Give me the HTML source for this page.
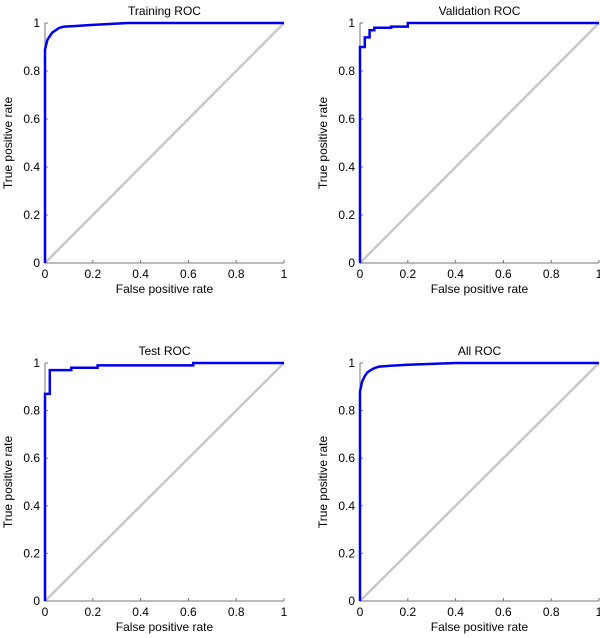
<!DOCTYPE html>
<html><head><meta charset="utf-8"><style>
html,body{margin:0;padding:0;background:#fff;}
svg{display:block;font-family:"Liberation Sans",sans-serif;}
</style></head><body>
<svg id="fig" width="600" height="638"></svg>
<script>
const ticks = [0, 0.2, 0.4, 0.6, 0.8, 1];
const tickLabels = ["0", "0.2", "0.4", "0.6", "0.8", "1"];
const titles = ["Training ROC", "Validation ROC", "Test ROC", "All ROC"];
const trainFpr = [0, 0, 0, 0.005, 0.01, 0.02, 0.03, 0.045, 0.06, 0.08, 0.12, 0.2, 0.35, 1];
const trainTpr = [0, 0.77, 0.89, 0.91, 0.93, 0.945, 0.96, 0.97, 0.98, 0.985, 0.987, 0.992, 1, 1];
const valFpr = [0, 0, 0.02, 0.02, 0.04, 0.04, 0.06, 0.06, 0.13, 0.13, 0.2, 0.2, 1];
const valTpr = [0, 0.9, 0.9, 0.94, 0.94, 0.97, 0.97, 0.98, 0.98, 0.985, 0.985, 1, 1];
const testFpr = [0, 0, 0.02, 0.02, 0.11, 0.11, 0.22, 0.22, 0.62, 0.62, 1];
const testTpr = [0, 0.87, 0.87, 0.97, 0.97, 0.98, 0.98, 0.99, 0.99, 1, 1];
const allFpr = [0, 0, 0, 0.005, 0.01, 0.02, 0.03, 0.045, 0.06, 0.08, 0.12, 0.2, 0.4, 1];
const allTpr = [0, 0.78, 0.88, 0.905, 0.925, 0.945, 0.96, 0.97, 0.978, 0.985, 0.988, 0.993, 1, 1];
const series = [[trainFpr, trainTpr], [valFpr, valTpr], [testFpr, testTpr], [allFpr, allTpr]];
const panels = [{x0:45,x1:284,y0:263,y1:23},{x0:360,x1:599,y0:263,y1:23},{x0:45,x1:284,y0:601,y1:363},{x0:360,x1:599,y0:601,y1:363}];
const NS = "http://www.w3.org/2000/svg";
const fig = document.getElementById("fig");
function mk(tag, attrs, parent, text){const e=document.createElementNS(NS,tag);for(const k in attrs)e.setAttribute(k,attrs[k]);if(text!==undefined)e.textContent=text;parent.appendChild(e);return e;}
panels.forEach((p,i)=>{
  const sx=v=>p.x0+v*(p.x1-p.x0), sy=v=>p.y0+v*(p.y1-p.y0);
  const g=mk("g",{},fig);
  
  
  const t=mk("text",{x:(p.x0+p.x1)/2,y:p.y1-8,"text-anchor":"middle","font-size":"12"},g,titles[i]);
  
  
  const d=mk("line",{x1:sx(0),y1:sy(0),x2:sx(1),y2:sy(1),stroke:"#c8c8c8","stroke-width":"2.5"},g);
  
  
  const ax=mk("path",{d:`M${sx(0)},${sy(1)}V${sy(0)}H${sx(1)}`,stroke:"#777",fill:"none","stroke-width":"1"},g);
  
  
  ticks.forEach((v,k)=>{
    mk("line",{x1:sx(v),y1:sy(0),x2:sx(v),y2:sy(0)-3,stroke:"#777"},g);
    mk("line",{x1:sx(0),y1:sy(v),x2:sx(0)+3,y2:sy(v),stroke:"#777"},g);
    const xl=mk("text",{x:sx(v),y:sy(0)+15,"text-anchor":"middle","font-size":"12"},g,tickLabels[k]);
    
    
    const yl=mk("text",{x:sx(0)-5,y:sy(v)+4,"text-anchor":"end","font-size":"12"},g,tickLabels[k]);
    
    
  });
  const xt=mk("text",{x:(p.x0+p.x1)/2,y:p.y0+30,"text-anchor":"middle","font-size":"12"},g,"False positive rate");
  
  
  const cy=(p.y0+p.y1)/2, cx=p.x0-33;
  const yt=mk("text",{x:cx,y:cy,"text-anchor":"middle","font-size":"12",transform:`rotate(-90 ${cx} ${cy})`},g,"True positive rate");
  
  
  const [fx,ty]=series[i];
  const pts=fx.map((v,k)=>sx(v).toFixed(1)+","+sy(ty[k]).toFixed(1)).join(" ");
  const c=mk("polyline",{points:pts,fill:"none",stroke:"#0000ee","stroke-width":"2.5"},g);
  
  
});
</script>
</body></html>
